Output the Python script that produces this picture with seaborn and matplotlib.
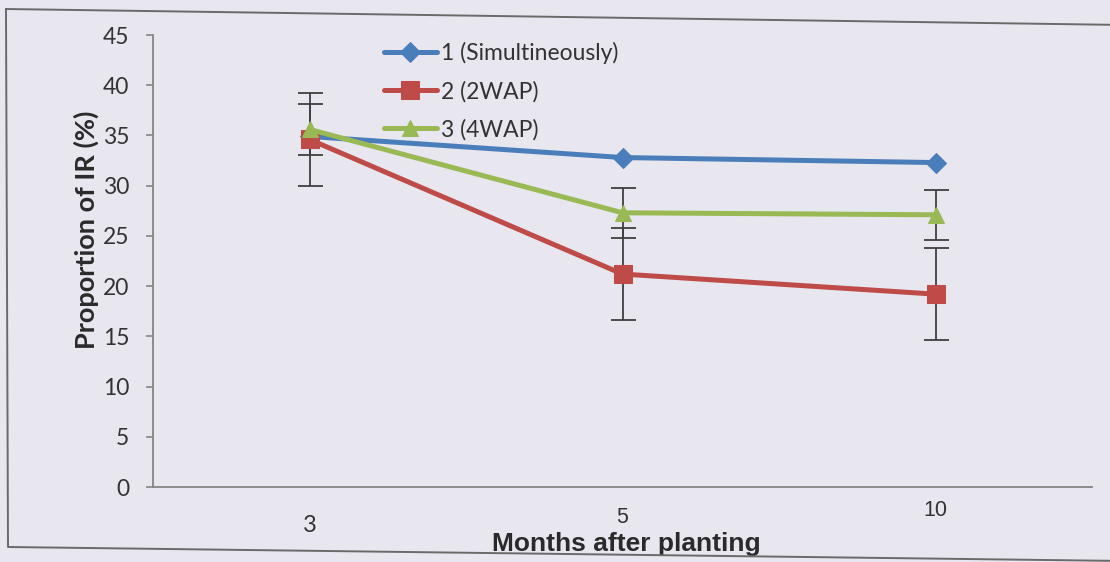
import numpy as np
import pandas as pd
import matplotlib
matplotlib.use("Agg")
import matplotlib.pyplot as plt
import matplotlib.transforms as mtransforms
from matplotlib.lines import Line2D
import seaborn as sns

# ---- data ----
months = ["3", "5", "10"]
series_names = ["1 (Simultineously)", "2 (2WAP)", "3 (4WAP)"]
simult = [34.9, 32.8, 32.3]
wap2 = [34.6, 21.2, 19.2]
wap4 = [35.6, 27.3, 27.1]
err_wap2 = [4.6, 4.6, 4.6]
err_wap4 = [2.5, 2.5, 2.5]

colors = ["#4a7ebb", "#be4b48", "#98b954"]
markers = ["D", "s", "^"]
msizes = [10, 12.5, 12]

bg = "#e8e6ef"
sns.set_theme(style="white")
plt.rcParams["font.family"] = ["Lato", "DejaVu Sans"]

df = pd.DataFrame({
    "pos": list(range(len(months))) * 3,
    "value": simult + wap2 + wap4,
    "series": [series_names[0]] * 3 + [series_names[1]] * 3 + [series_names[2]] * 3,
})

fig = plt.figure(figsize=(11.10, 5.62), dpi=100, facecolor=bg)
ax = fig.add_axes([153 / 1110, 1 - 487 / 562, (1092 - 153) / 1110, (487 - 35) / 562])
ax.set_facecolor(bg)

# error bars (behind lines)
pos = np.arange(len(months))
ax.errorbar(pos, wap2, yerr=err_wap2, fmt="none", ecolor="#3f3f3f",
            elinewidth=1.3, capsize=9, capthick=1.3, zorder=1)
ax.errorbar(pos, wap4, yerr=err_wap4, fmt="none", ecolor="#3f3f3f",
            elinewidth=1.3, capsize=9, capthick=1.3, zorder=1)

for name, c, m, ms in zip(series_names, colors, markers, msizes):
    sub = df[df["series"] == name]
    sns.lineplot(data=sub, x="pos", y="value", ax=ax, color=c, marker=m,
                 markersize=ms, markeredgecolor=c, linewidth=3.6,
                 label=name, zorder=3)

ax.set_xlim(-0.5, 2.5)
ax.set_ylim(0, 45)
ax.set_yticks(range(0, 46, 5))
ax.set_xticks(pos)
ax.set_xticklabels(months)

for s in ["top", "right"]:
    ax.spines[s].set_visible(False)
for s in ["left", "bottom"]:
    ax.spines[s].set_color("#858585")
    ax.spines[s].set_linewidth(1.3)

ax.tick_params(axis="y", direction="out", length=5, width=1.2, color="#858585",
               pad=12, labelsize=16.5, labelcolor="#333333", left=True)
ax.tick_params(axis="x", length=0, pad=20, labelsize=15.5, labelcolor="#333333")

# individual x tick label fonts / sizes / offsets
offsets = [0, 8, 15]
sizes = [17, 15.5, 15.5]
fams = [["Lato", "DejaVu Sans"],
        ["Liberation Sans Narrow", "Liberation Sans", "DejaVu Sans"],
        ["Liberation Sans Narrow", "Liberation Sans", "DejaVu Sans"]]
for lab, off, fam, sz in zip(ax.get_xticklabels(), offsets, fams, sizes):
    lab.set_family(fam)
    lab.set_fontsize(sz)
    lab.set_transform(lab.get_transform() +
                      mtransforms.ScaledTranslation(0, off / 100, fig.dpi_scale_trans))

ax.set_ylabel("Proportion of IR (%)", fontsize=19.5, fontweight="bold", color="#2a2a2a")
ax.yaxis.set_label_coords(-0.058, 0.57)
ax.set_xlabel("Months after planting", fontsize=19, fontweight="bold", color="#2a2a2a",
              family=["Liberation Sans Narrow", "Liberation Sans", "DejaVu Sans"])
ax.xaxis.set_label_coords(0.504, -0.1)

leg = ax.legend(loc="upper left", bbox_to_anchor=(384 / 1110, 1 - 42 / 562),
                bbox_transform=fig.transFigure, frameon=False, fontsize=16.5,
                handlelength=2.3, handletextpad=0.2, labelspacing=0.72,
                borderpad=0, borderaxespad=0)
for t in leg.get_texts():
    t.set_color("#333333")

# outer chart frame (slightly skewed, as scanned)
W, H = 1110, 562
pts = [(6, 9), (1125, 25), (1125, 561), (8, 547), (6, 9)]
xs = [p[0] / W for p in pts]
ys = [1 - p[1] / H for p in pts]
fig.add_artist(Line2D(xs, ys, transform=fig.transFigure, color="#6a6a6a", linewidth=1.4))

fig.savefig("out.png", dpi=100, facecolor=bg)
